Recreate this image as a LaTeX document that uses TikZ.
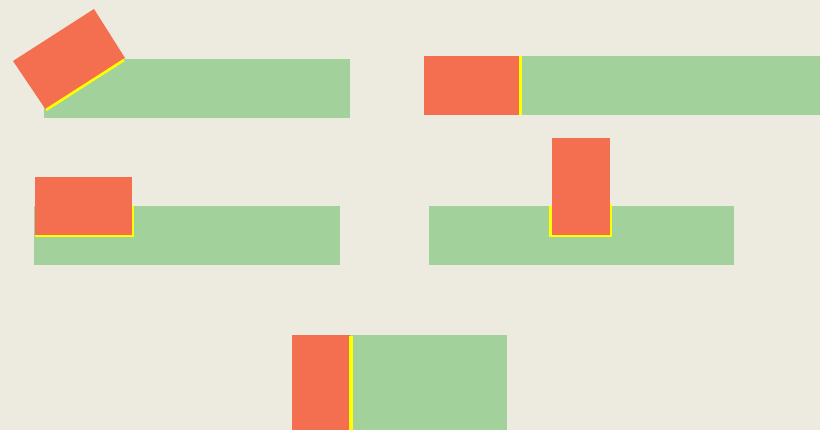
\documentclass[tikz,border=0pt]{standalone}
\definecolor{bg}{HTML}{EDEADF}
\definecolor{grn}{HTML}{A3D19C}
\definecolor{rd}{HTML}{F36F50}
\definecolor{yl}{HTML}{FFFF00}
\tikzset{
  base/.style={fill=grn, draw=none},
  piece/.style={fill=rd, draw=none},
  edge/.style={draw=yl, line width=2.6pt, line cap=butt, line join=miter},
}
\begin{document}
\begin{tikzpicture}[x=1pt,y=-1pt]
\useasboundingbox (0,0) rectangle (820,430);
\fill[bg] (0,0) rectangle (820,430);
% panel 1
\fill[base] (44,59) rectangle (350,118);
\fill[piece] (13,61) -- (94,9) -- (125,58) -- (46,110) -- cycle;
\draw[edge] (46,110) -- (124,60);
% panel 2
\fill[base] (520,56) rectangle (820,115);
\fill[piece] (424,56) rectangle (520,115);
\draw[edge] (520.3,56) -- (520.3,115);
% panel 3
\fill[base] (34,206) rectangle (340,265);
\draw[edge] (35,236) -- (133,236) -- (133,206);
\fill[piece] (35.3,176.7) rectangle (131.7,235);
% panel 4
\fill[base] (429,206) rectangle (734,265);
\draw[edge] (550.5,206) -- (550.5,236) -- (611,236) -- (611,204);
\fill[piece] (552.3,138.3) rectangle (610.2,235);
% panel 5
\fill[base] (349,335) rectangle (507,430);
\fill[piece] (292,335.3) rectangle (349.5,430);
\draw[edge, line width=3.6pt] (351,336) -- (351,430);
\end{tikzpicture}
\end{document}
